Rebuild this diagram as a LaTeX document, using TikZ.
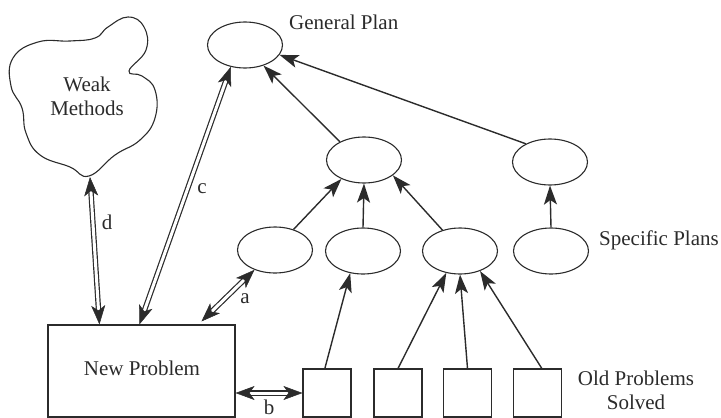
\documentclass[tikz,border=0pt]{standalone}
\usepackage{fontspec}
\setmainfont{Liberation Serif}
\usetikzlibrary{shapes.geometric,arrows.meta,calc}

\definecolor{ink}{gray}{0.17}

\tikzset{
  plan/.style={draw=ink, line width=1.1pt, ellipse, minimum width=75pt, minimum height=46pt, inner sep=0pt},
  oldbox/.style={draw=ink, line width=1.1pt, rectangle, minimum width=48pt, minimum height=48pt, inner sep=0pt},
  probbox/.style={draw=ink, line width=1.1pt, rectangle, minimum width=187pt, minimum height=92pt, inner sep=0pt},
  lbl/.style={text=ink, font=\fontsize{21}{24}\selectfont, inner sep=0pt},
  link/.style={draw=ink, line width=1.4pt,
               -{Stealth[length=19pt 0 0, width=13pt 0 0, inset=4.5pt 0 0, color=ink]}},
  dblline/.style={draw=ink, double=white, double distance=3pt, line width=1.2pt,
                  shorten <=14pt, shorten >=14pt},
  dbltips/.style={draw=white, line width=0.5pt,
                  {Stealth[color=ink, length=19pt 0 0, width=14pt 0 0, inset=5pt 0 0]}-{Stealth[color=ink, length=19pt 0 0, width=14pt 0 0, inset=5pt 0 0]}},
}

\begin{document}
\begin{tikzpicture}[x=1pt, y=-1pt]
\useasboundingbox (0,0) rectangle (721,418);

% plan hierarchy
\node[plan] (gp) at (245,45) {};
\node[plan] (m1) at (364,160) {};
\node[plan] (m2) at (550,162) {};
\node[plan] (s1) at (275,250) {};
\node[plan] (s2) at (363,251) {};
\node[plan] (s3) at (460,251) {};
\node[plan] (s4) at (551,251) {};

% solved problems
\node[oldbox] (o1) at (327,393) {};
\node[oldbox] (o2) at (398,393) {};
\node[oldbox] (o3) at (467.5,393) {};
\node[oldbox] (o4) at (537.5,393) {};

% the new problem
\node[probbox] (np) at (141.5,371) {};
\node[lbl] (nptext) at (142,368) {New Problem};

% weak methods blob
\draw[draw=ink, line width=1.1pt] plot[smooth cycle, tension=0.75] coordinates {
  (108,27) (128,17) (144,27) (146,50) (129,71) (142,76) (155,90)
  (155,118) (140,140) (115,155) (89,176) (70,167) (40,155)
  (26,133) (22,108) (11,86) (13,58) (38,42) (70,41) (95,38)};
\node[lbl, align=center, font=\fontsize{21}{24}\selectfont] (wm) at (87,96) {Weak\\Methods};
\coordinate (wmb) at (90,177);

% captions
\node[lbl, anchor=west] (gplbl) at (289,22) {General Plan};
\node[lbl, anchor=west] (splbl) at (599,240) {Specific Plans};
\node[lbl, align=center, font=\fontsize{21}{24}\selectfont] (oplbl) at (636,390) {Old Problems\\Solved};

% generalisation links
\draw[link] (s1.48) -- (m1.220);
\draw[link] (s2.north) -- (m1.south);
\draw[link] (s3.130) -- (m1.-28);
\draw[link] (m1.143) -- (gp.-48);
\draw[link] (m2.143) -- (gp.-16);
\draw[link] (s4.north) -- (m2.south);
\draw[link] (o1.95) -- (s2.240);
\draw[link] (o2.north) -- (s3.238);
\draw[link] (o3.north) -- (s3.south);
\draw[link] (o4.80) -- (s3.-45);

% two-way lookups
\coordinate (npd) at ($(np.north west)+(52,0)$);
\coordinate (npc) at ($(np.north west)+(92,0)$);
\coordinate (npa) at ($(np.north west)+(154,-3)$);
\coordinate (npb) at (o1.west -| np.east);

\draw[dblline] (wmb) -- (npd);
\draw[dbltips] (wmb) -- (npd);
\draw[dblline] (npc) -- (gp.237);
\draw[dbltips] (npc) -- (gp.237);
\draw[dblline] (npa) -- (s1.224);
\draw[dbltips] (npa) -- (s1.224);
\draw[dblline] (npb) -- (o1.west);
\draw[dbltips] (npb) -- (o1.west);

\node[lbl] (la) at (245,299) {a};
\node[lbl] (lb) at (269,407) {b};
\node[lbl] (lc) at (202,189) {c};
\node[lbl] (ld) at (107,222) {d};
\end{tikzpicture}
\end{document}
